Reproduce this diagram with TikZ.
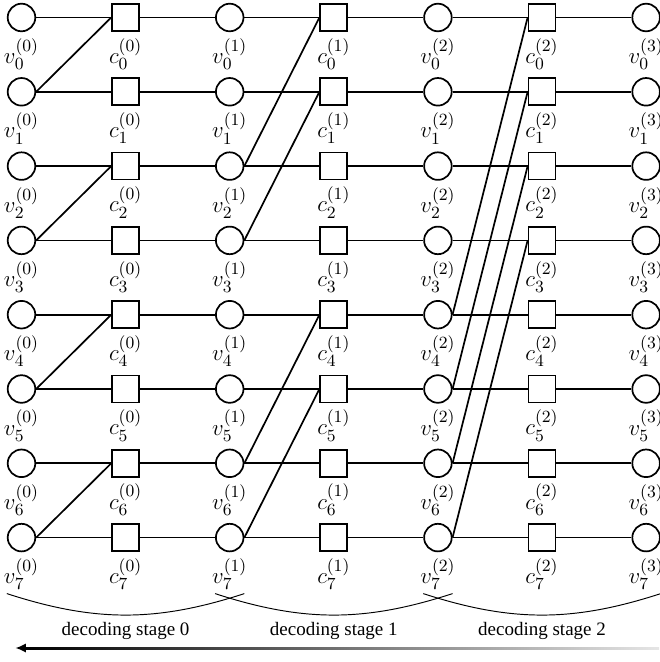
\documentclass[tikz,border=0pt]{standalone}
\usepackage{fontspec}
\setmainfont{Liberation Serif}
\usetikzlibrary{arrows.meta,calc}

\tikzset{
    var/.style={circle, draw, line width=0.9pt, minimum size=0.51cm, inner sep=0pt},
    chk/.style={rectangle, draw, line width=0.9pt, minimum size=0.5cm, inner sep=0pt},
    edge/.style={line width=0.9pt},
    stagearc/.style={line width=0.5pt},
    lbl/.style={font=\fontsize{12.8}{15}\selectfont, inner sep=3.2pt},
}

\begin{document}
\begin{tikzpicture}[x=0.0185cm, y=-0.0185cm]
    \useasboundingbox (0,0) rectangle (659,662);

    % variable nodes
    \foreach \k in {0,...,3} {
        \foreach \i in {0,...,7} {
            \node[var, label={[lbl]below:$v_{\i}^{(\k)}$}] (v\k-\i) at (21.5+208.2*\k, 17.5+74.3*\i) {};
        }
    }
    % check nodes
    \foreach \k in {0,...,2} {
        \foreach \i in {0,...,7} {
            \node[chk, label={[lbl]below:$c_{\i}^{(\k)}$}] (c\k-\i) at (125.6+208.2*\k, 17.5+74.3*\i) {};
        }
    }

    % straight edges
    \foreach \k/\n in {0/1, 1/2, 2/3} {
        \foreach \i in {0,...,7} {
            \draw[edge] (v\k-\i) -- (c\k-\i) -- (v\n-\i);
        }
    }
    % crossing edges
    \foreach \a/\b/\k in {1/0/0, 3/2/0, 5/4/0, 7/6/0,
                          2/0/1, 3/1/1, 6/4/1, 7/5/1,
                          4/0/2, 5/1/2, 6/2/2, 7/3/2} {
        \draw[edge] (v\k-\a.east) -- (c\k-\b.west);
    }

    % decoding stages
    \foreach \k/\n in {0/1, 1/2, 2/3} {
        \path (v\k-7.west) ++(0,56) coordinate (sa\k);
        \path (v\n-7.east) ++(0,56) coordinate (sb\k);
        \draw[stagearc] (sa\k) to[bend right=18] node[below] {decoding stage \k} (sb\k);
    }

    % direction arrow
    \coordinate (arrtip) at (15.5,648);
    \coordinate (arrend) at (659,648);
    \shade[left color=black, right color=black!10] ($(arrtip)+(8,-1)$) rectangle ($(arrend)+(0,1)$);
    \draw[line width=1pt, -{Latex[length=5.5pt, width=5pt]}] ($(arrtip)+(14,0)$) -- (arrtip);
\end{tikzpicture}
\end{document}
